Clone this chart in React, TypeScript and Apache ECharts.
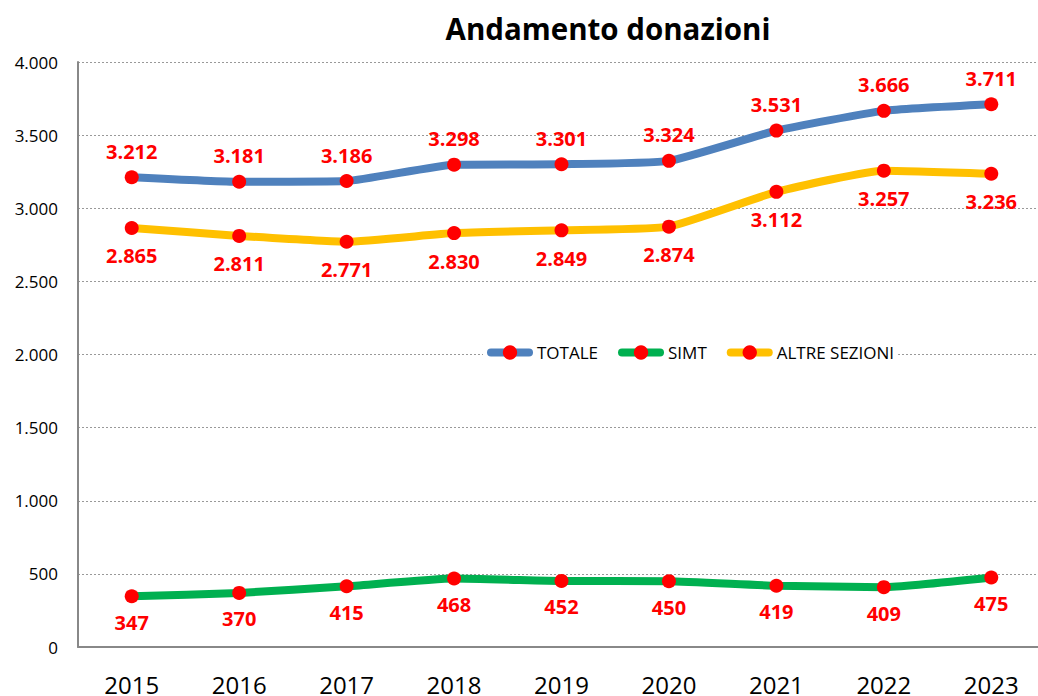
import React, { useEffect, useRef } from "react";
import * as echarts from "echarts";

const years = ["2015", "2016", "2017", "2018", "2019", "2020", "2021", "2022", "2023"];
const totale = [3212, 3181, 3186, 3298, 3301, 3324, 3531, 3666, 3711];
const simt = [347, 370, 415, 468, 452, 450, 419, 409, 475];
const altre = [2865, 2811, 2771, 2830, 2849, 2874, 3112, 3257, 3236];

const fmt = (v: number) => {
  const s = String(Math.round(v));
  return s.replace(/\B(?=(\d{3})+(?!\d))/g, ".");
};

const FONT = "'Open Sans', 'Noto Sans', sans-serif";

export default function App() {
  const ref = useRef<HTMLDivElement>(null);
  useEffect(() => {
    const chart = echarts.init(ref.current!, null, { renderer: "svg" });
    const mkSeries = (name: string, data: number[], color: string, pos: string, dist: number) => ({
      name,
      type: "line",
      data,
      smooth: 0.15,
      symbol: "circle",
      symbolSize: 14,
      itemStyle: { color: "#FF0000" },
      lineStyle: { color, width: 8 },
      label: {
        show: true,
        position: pos,
        distance: dist,
        formatter: (p: any) => fmt(p.value),
        color: "#FF0000",
        fontWeight: "bold",
        fontSize: 20,
        fontFamily: FONT,
      },
      z: 3,
    });
    chart.setOption({
      animation: false,
      title: {
        text: "Andamento donazioni",
        left: 603,
        top: 8,
        textAlign: "center",
        textStyle: { fontSize: 29.5, fontWeight: "bold", color: "#000", fontFamily: FONT },
      },
      legend: {
        left: 483,
        top: 344,
        itemWidth: 38,
        itemHeight: 18,
        itemGap: 20,
        backgroundColor: "#fff",
        padding: [0, 4],
        lineStyle: { width: 8, cap: "round" },
        textStyle: { fontSize: 17, color: "#000", fontFamily: FONT, padding: [0, 0, 0, 3] },
        data: ["TOTALE", "SIMT", "ALTRE SEZIONI"],
      },
      grid: { left: 78, top: 62, width: 967, height: 586, containLabel: false },
      xAxis: {
        type: "category",
        data: years,
        boundaryGap: true,
        axisLine: { lineStyle: { color: "#888", width: 2 } },
        axisTick: { show: false },
        axisLabel: { fontSize: 24, color: "#000", margin: 25, fontFamily: FONT },
      },
      yAxis: {
        type: "value",
        min: 0,
        max: 4000,
        interval: 500,
        axisLine: { show: true, lineStyle: { color: "#888", width: 2 } },
        axisTick: { show: false },
        splitLine: { lineStyle: { color: "#999", type: [2, 2], width: 1 } },
        axisLabel: { fontSize: 17, color: "#000", margin: 20, fontFamily: FONT, formatter: (v: number) => fmt(v) },
      },
      series: [
        mkSeries("TOTALE", totale, "#4F81BD", "top", 9),
        mkSeries("SIMT", simt, "#00B050", "bottom", 9),
        mkSeries("ALTRE SEZIONI", altre, "#FFC000", "bottom", 11),
      ],
    });
    return () => chart.dispose();
  }, []);
  return (
    <div style={{ position: "fixed", left: 0, top: 0, width: 1038, height: 696, overflow: "hidden", background: "#fff" }}>
      <div ref={ref} style={{ width: 1060, height: 696 }} />
    </div>
  );
}
